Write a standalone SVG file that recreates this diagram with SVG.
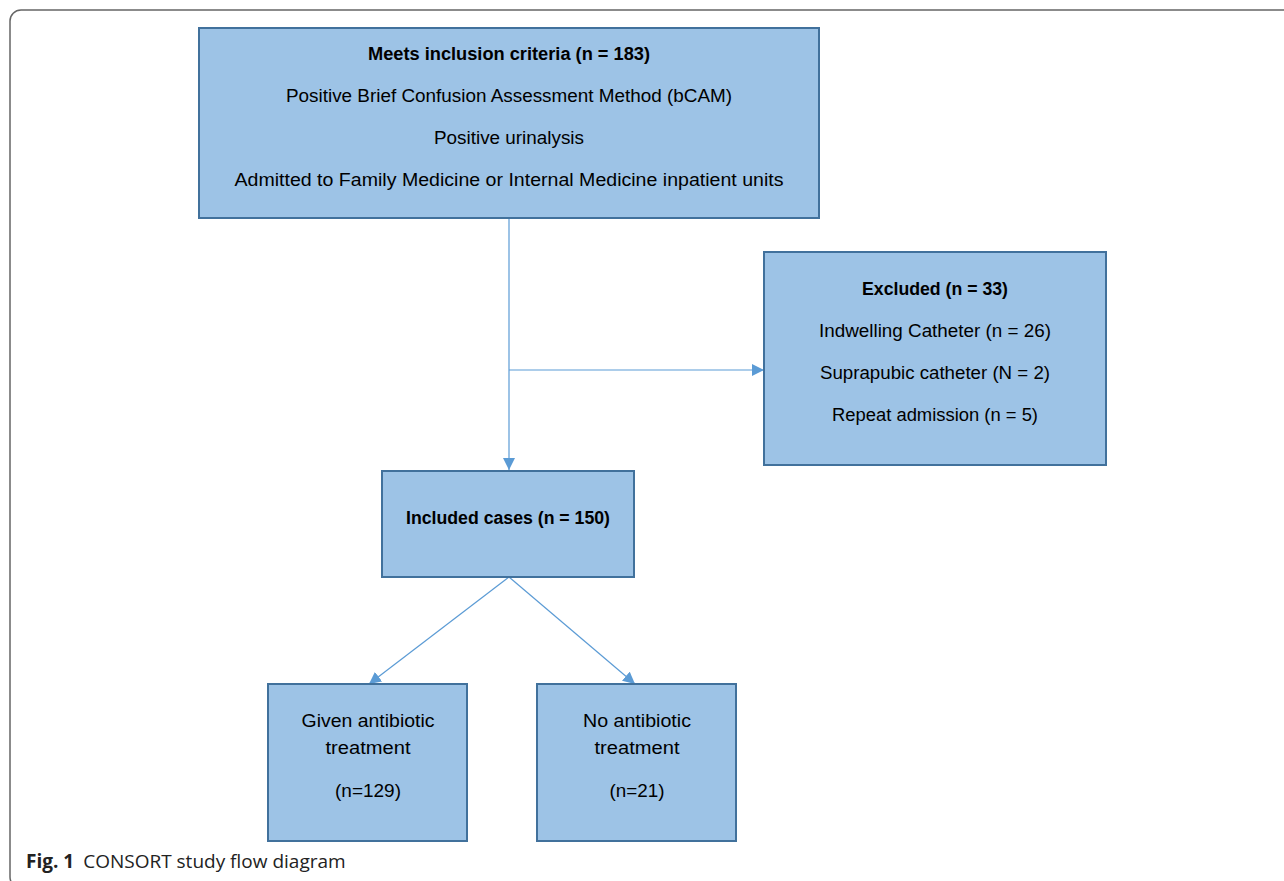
<svg xmlns="http://www.w3.org/2000/svg" width="1284" height="881" viewBox="0 0 1284 881">
<style>
.box{fill:#9DC3E6;stroke:#41719C;stroke-width:2}
.t{font-family:"Liberation Sans",Arial,sans-serif;font-size:17.5px;fill:#000;text-anchor:middle}
.b{font-weight:bold}
.c{stroke:#5B9BD5;stroke-width:1.2;fill:none}
.cap{font-family:"Open Sans","Noto Sans",sans-serif;font-size:19px;fill:#222}
</style>
<defs>
<marker id="ah" viewBox="0 0 12 12" refX="12" refY="6" markerWidth="12" markerHeight="12" markerUnits="userSpaceOnUse" orient="auto">
<path d="M0,0 L12,6 L0,12 Z" fill="#5B9BD5"/>
</marker>
</defs>
<rect x="0" y="0" width="1284" height="881" fill="#fff"/>
<rect x="10" y="10" width="1300" height="878" rx="11" fill="none" stroke="#666" stroke-width="1.5"/>
<g id="connectors">
<line class="c" x1="509" y1="218" x2="509" y2="470" marker-end="url(#ah)"/>
<line class="c" x1="509" y1="370" x2="764" y2="370" marker-end="url(#ah)"/>
<line class="c" x1="509" y1="577" x2="369" y2="684" marker-end="url(#ah)"/>
<line class="c" x1="509" y1="577" x2="635" y2="684" marker-end="url(#ah)"/>
</g>
<g id="node-inclusion">
<rect class="box" x="199" y="28" width="620" height="190"/>
<text class="t b" x="509" y="60" textLength="282" lengthAdjust="spacingAndGlyphs">Meets inclusion criteria (n = 183)</text>
<text class="t" x="509" y="102" textLength="446" lengthAdjust="spacingAndGlyphs">Positive Brief Confusion Assessment Method (bCAM)</text>
<text class="t" x="509" y="144" textLength="150" lengthAdjust="spacingAndGlyphs">Positive urinalysis</text>
<text class="t" x="509" y="186" textLength="549" lengthAdjust="spacingAndGlyphs">Admitted to Family Medicine or Internal Medicine inpatient units</text>
</g>
<g id="node-excluded">
<rect class="box" x="764" y="252" width="342" height="213"/>
<text class="t b" x="935" y="295" textLength="146" lengthAdjust="spacingAndGlyphs">Excluded (n = 33)</text>
<text class="t" x="935" y="337" textLength="232" lengthAdjust="spacingAndGlyphs">Indwelling Catheter (n = 26)</text>
<text class="t" x="935" y="379" textLength="230" lengthAdjust="spacingAndGlyphs">Suprapubic catheter (N = 2)</text>
<text class="t" x="935" y="421" textLength="206" lengthAdjust="spacingAndGlyphs">Repeat admission (n = 5)</text>
</g>
<g id="node-included">
<rect class="box" x="382" y="471" width="252" height="106"/>
<text class="t b" x="508" y="524" textLength="204" lengthAdjust="spacingAndGlyphs">Included cases (n = 150)</text>
</g>
<g id="node-given">
<rect class="box" x="268" y="684" width="199" height="157"/>
<text class="t" x="368" y="727" textLength="133" lengthAdjust="spacingAndGlyphs">Given antibiotic</text>
<text class="t" x="368" y="754" textLength="85" lengthAdjust="spacingAndGlyphs">treatment</text>
<text class="t" x="368" y="797" textLength="66" lengthAdjust="spacingAndGlyphs">(n=129)</text>
</g>
<g id="node-none">
<rect class="box" x="537" y="684" width="199" height="157"/>
<text class="t" x="637" y="727" textLength="108" lengthAdjust="spacingAndGlyphs">No antibiotic</text>
<text class="t" x="637" y="754" textLength="85" lengthAdjust="spacingAndGlyphs">treatment</text>
<text class="t" x="637" y="797" textLength="55" lengthAdjust="spacingAndGlyphs">(n=21)</text>
</g>
<g id="caption">
<text class="cap" x="26" y="868"><tspan font-weight="bold">Fig. 1</tspan><tspan dx="9">CONSORT study flow diagram</tspan></text>
</g>
</svg>
